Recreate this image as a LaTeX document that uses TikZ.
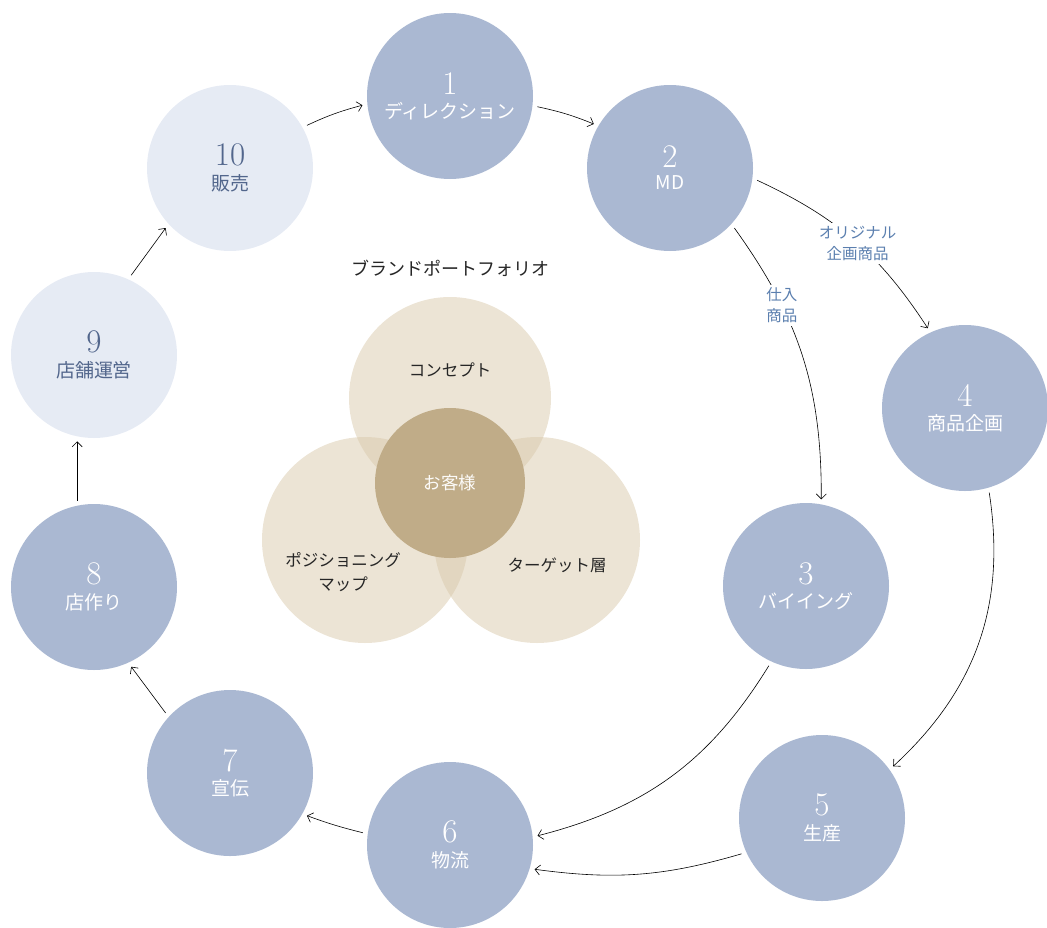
\documentclass[tikz,border=0pt]{standalone}
\usepackage{fontspec}
\usetikzlibrary{arrows.meta}
\newfontfamily\jp{Noto Sans CJK JP}
\definecolor{stageblue}{HTML}{AAB8D2}
\definecolor{stagepale}{HTML}{E6EBF4}
\definecolor{stagetext}{HTML}{52668C}
\definecolor{labelblue}{HTML}{5B7FAF}
\definecolor{vennfill}{HTML}{D9C9AB}
\definecolor{venncore}{HTML}{C0AC88}
\newcommand{\stagelabel}[2]{{\fontsize{33}{34}\selectfont #1}\\[7pt]{\jp\fontsize{19}{22}\selectfont #2}}
\tikzset{
  stage/.style={circle, fill=stageblue, minimum size=166pt, inner sep=0pt, outer sep=5pt, text=white, align=center},
  stagepale/.style={stage, fill=stagepale, text=stagetext},
  flow/.style={-{Straight Barb[length=5pt,width=10pt]}, line width=0.6pt},
  flowlabel/.style={fill=white, text=labelblue, font=\jp\fontsize{15.5}{21}\selectfont, align=center, inner sep=3pt},
  venn/.style={circle, fill=vennfill, fill opacity=0.5, text opacity=1, minimum size=#1, inner sep=0pt},
  venntext/.style={font=\jp\fontsize{16.5}{24}\selectfont, text=black!85, align=center},
}
\begin{document}
\begin{tikzpicture}[x=1pt,y=-1pt]
  \useasboundingbox (0,0) rectangle (1047,927);

  %%%%% portfolio %%%%%
  \node[venntext, font=\jp\fontsize{18}{22}\selectfont] (title) at (450,268) {ブランドポートフォリオ};
  \node[venn=202pt] (concept) at (450,398) {};
  \node[venn=206pt] (position) at (365,540) {};
  \node[venn=206pt] (target) at (537,540) {};
  \node[circle, fill=venncore, minimum size=150pt, inner sep=0pt, text=white!95!venncore,
        font=\jp\fontsize{17.5}{20}\selectfont] (customer) at (450,483) {お客様};
  \node[venntext] (concepttext) at (450,370) {コンセプト};
  \node[venntext] (positiontext) at (343,572) {ポジショニング\\マップ};
  \node[venntext] (targettext) at (557,565) {ターゲット層};

  %%%%% stages %%%%%
  \node[stage] (n1) at (450,96) {\stagelabel{1}{ディレクション}};
  \node[stage] (n2) at (670,168) {\stagelabel{2}{MD}};
  \node[stage] (n3) at (806,586) {\stagelabel{3}{バイイング}};
  \node[stage] (n4) at (965,408) {\stagelabel{4}{商品企画}};
  \node[stage] (n5) at (822,818) {\stagelabel{5}{生産}};
  \node[stage] (n6) at (450,845) {\stagelabel{6}{物流}};
  \node[stage] (n7) at (230,773) {\stagelabel{7}{宣伝}};
  \node[stage] (n8) at (94,587) {\stagelabel{8}{店作り}};
  \node[stagepale] (n9) at (94,355) {\stagelabel{9}{店舗運営}};
  \node[stagepale] (n10) at (230,168) {\stagelabel{10}{販売}};

  %%%%% flows %%%%%
  \draw[flow] (n10.29) to[bend left=5] (n1.186);
  \draw[flow] (n1.-7) to[bend left=5] (n2.150);
  \draw[flow] (n2.-8) to[bend left=16] node[flowlabel, pos=0.52] {オリジナル\\企画商品} (n4.115);
  \draw[flow] (n2.-43) to[bend left=18] node[flowlabel, pos=0.3] {仕入\\商品} (n3.80);
  \draw[flow] (n4.-74) to[bend left=28] (n5.36);
  \draw[flow] (n3.-115) to[bend left=22] (n6.6);
  \draw[flow] (n5.204) to[bend left=12] (n6.-16);
  \draw[flow] (n6.172) to[bend left=3] (n7.-29);
  \draw[flow] (n7.137) -- (n8.-65);
  \draw[flow] (n8.101) -- (n9.259);
  \draw[flow] (n9.65) -- (n10.223);
\end{tikzpicture}
\end{document}
